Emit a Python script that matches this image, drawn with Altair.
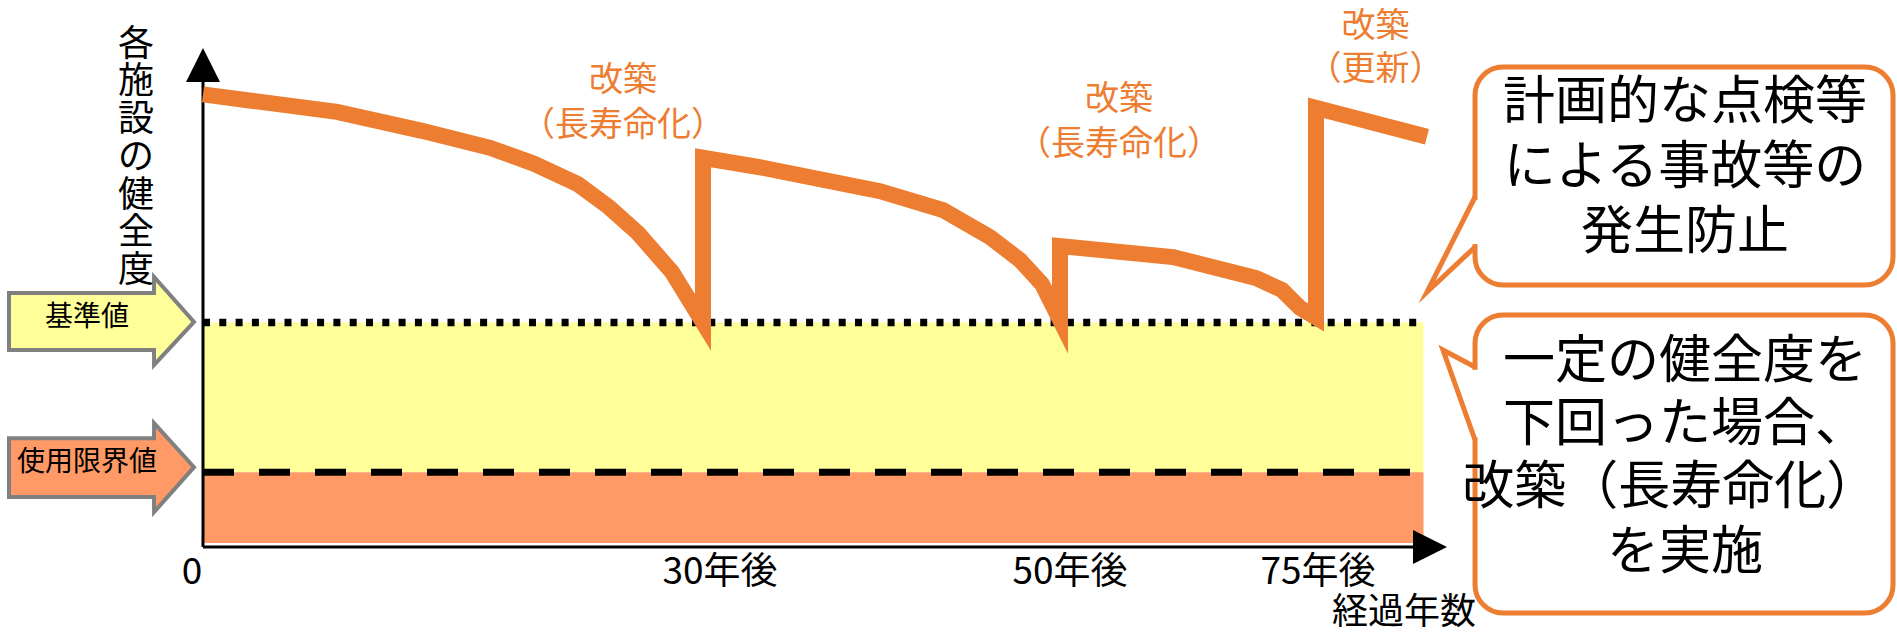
import altair as alt
import pandas as pd

ORANGE = "#ED7D31"
YELLOW = "#FFFF99"
SALMON = "#FF9966"
GREY = "#808080"
FONT = "Noto Sans CJK JP"

# ---------------- data (x = 経過年数, y = 健全度) ----------------
curve_year = [0, 8.04, 13.14, 17.22, 19.86, 22.5, 24.36, 26.1, 28.14, 30,
              30, 33.36, 39.92, 43.45, 46.08, 47.76, 48.99, 50,
              50, 61.04, 69.14, 71.68, 73.44, 75,
              75, 85.84]
curve_health = [90.7, 87.2, 83.4, 80.0, 76.8, 72.7, 68.1, 62.9, 55.1, 45.0,
                78.0, 76.0, 71.3, 67.5, 62.1, 57.5, 52.7, 45.5,
                60.3, 58.1, 53.9, 51.5, 47.9, 46.0,
                88.0, 82.2]

kijun_value = 45.0        # 基準値
limit_value = 15.0        # 使用限界値
band_bottom = 0.8
band_end_year = 85.5

tick_label_year = [-0.66, 30.95, 50.98, 75.2]
tick_labels = ["0", "30年後", "50年後", "75年後"]
tick_label_health = [-5.2, -5.2, -5.2, -5.2]

x_title = ["経過年数"]
x_title_year = [83.6]
x_title_health = [-13.2]

# vertical y-axis title, one character per row
y_title_chars = ["各", "施", "設", "の", "健", "全", "度"]
y_title_year = [-4.02] * 7
y_title_health = [100.7, 93.1, 85.55, 77.98, 70.4, 62.83, 55.25]

y_axis_top = 93.2
x_axis_end = 84.5
y_arrow_pos = (0, 96.6)
x_arrow_pos = (86.13, 0)

note_lines = ["改築", "（長寿命化）", "改築", "（長寿命化）", "改築", "（更新）"]
note_year = [25.2, 25.2, 55.76, 55.76, 80.81, 80.81]
note_health = [93.4, 84.4, 89.6, 80.6, 104.3, 95.6]

arrow_names = ["基準値", "使用限界値"]
arrow_fill = [YELLOW, SALMON]
arrow_x = [-11.64, -2.94, -2.935, -0.54]
arrow_top = [[50.9, 50.9, 54.1, 45.1], [21.8, 21.8, 24.8, 16.0]]
arrow_bottom = [[39.5, 39.5, 36.5, 45.1], [10.0, 10.0, 7.0, 16.0]]
arrow_label_year = [-6.96, -6.96]
arrow_label_health = [45.9, 16.8]

box_x0 = [90.53, 90.53]
box_x1 = [131.35, 131.35]
box_top = [96.19, 46.49]
box_bottom = [52.51, -13.23]
tail_year = [[90.53, 85.84, 90.53], [90.53, 87.40, 90.53]]
tail_health = [[70.14, 51.10, 60.12], [36.07, 39.48, 21.44]]
gap_top = [69.5, 35.5]
gap_bottom = [60.7, 22.0]

callout_lines = ["計画的な点検等", "による事故等の", "発生防止",
                 "一定の健全度を", "下回った場合、", "改築（長寿命化）", "を実施"]
callout_year = [111.04, 111.04, 111.04, 111.04, 111.04, 109.6, 111.04]
callout_health = [88.98, 75.95, 62.93, 37.07, 24.45, 11.82, -1.2]

# ---------------- scales ----------------
xs = alt.Scale(domain=[0, 30, 50, 75], range=[0, 500, 857, 1113], nice=False, zero=False)
ys = alt.Scale(domain=[0, 100], nice=False, zero=False)


def X(f):
    return alt.X(f, type="quantitative", scale=xs, axis=None)


def Y(f):
    return alt.Y(f, type="quantitative", scale=ys, axis=None)


def text_layer(texts, xv, yv, **kw):
    df = pd.DataFrame({"t": texts, "x": xv, "y": yv})
    return alt.Chart(df).mark_text(font=FONT, **kw).encode(x=X("x"), y=Y("y"), text="t:N")


# bands
bands = pd.DataFrame({
    "x0": [0, 0], "x1": [band_end_year, band_end_year],
    "y0": [limit_value, band_bottom], "y1": [kijun_value, limit_value],
    "c": [YELLOW, SALMON],
})
band_layer = alt.Chart(bands).mark_rect().encode(
    x=X("x0"), x2="x1", y=Y("y0"), y2="y1", fill=alt.Fill("c:N", scale=None))

dotted = alt.Chart(pd.DataFrame({"x0": [0], "x1": [band_end_year + 0.1], "y": [kijun_value]})).mark_rule(
    color="black", strokeWidth=7.5, strokeDash=[7, 9.3]).encode(x=X("x0"), x2="x1", y=Y("y"))
dashed = alt.Chart(pd.DataFrame({"x0": [0], "x1": [band_end_year + 0.1], "y": [limit_value]})).mark_rule(
    color="black", strokeWidth=7, strokeDash=[31, 25]).encode(x=X("x0"), x2="x1", y=Y("y"))

axes = pd.DataFrame({"x0": [0, 0], "x1": [0, x_axis_end], "y0": [0, 0], "y1": [y_axis_top, 0]})
axis_layer = alt.Chart(axes).mark_rule(color="black", strokeWidth=3).encode(
    x=X("x0"), x2="x1", y=Y("y0"), y2="y1")
up_arrow = alt.Chart(pd.DataFrame({"x": [y_arrow_pos[0]], "y": [y_arrow_pos[1]]})).mark_point(
    shape="M-1,1L0,-1L1,1Z", filled=True, size=1156, color="black", opacity=1, strokeWidth=0).encode(
    x=X("x"), y=Y("y"))
right_arrow = alt.Chart(pd.DataFrame({"x": [x_arrow_pos[0]], "y": [x_arrow_pos[1]]})).mark_point(
    shape="M-1,-1L1,0L-1,1Z", filled=True, size=1156, color="black", opacity=1, strokeWidth=0).encode(
    x=X("x"), y=Y("y"))

curve = pd.DataFrame({"year": curve_year, "health": curve_health, "i": list(range(len(curve_year)))})
curve_layer = alt.Chart(curve).mark_line(
    color=ORANGE, strokeWidth=16, strokeJoin="miter", strokeMiterLimit=10, strokeCap="butt").encode(
    x=X("year"), y=Y("health"), order="i:Q")

note_layer = text_layer(note_lines, note_year, note_health, color=ORANGE, fontSize=34)

# left arrows
rows = []
for k, name in enumerate(arrow_names):
    for j in range(len(arrow_x)):
        rows.append({"name": name, "x": arrow_x[j], "top": arrow_top[k][j],
                     "bottom": arrow_bottom[k][j], "fill": arrow_fill[k]})
arrows = pd.DataFrame(rows)
arrow_layer = alt.Chart(arrows).mark_area(
    orient="vertical", stroke=GREY, strokeWidth=4, strokeJoin="miter", fillOpacity=1).encode(
    x=X("x"), y=Y("top"), y2="bottom", fill=alt.Fill("fill:N", scale=None), detail="name:N")
arrow_text = text_layer(arrow_names, arrow_label_year, arrow_label_health, fontSize=28, color="black")

# callouts
boxes = pd.DataFrame({"x0": box_x0, "x1": box_x1, "y0": box_bottom, "y1": box_top})
box_layer = alt.Chart(boxes).mark_rect(
    cornerRadius=28, fill="white", stroke=ORANGE, strokeWidth=5).encode(
    x=X("x0"), x2="x1", y=Y("y0"), y2="y1")
gaps = pd.DataFrame({"x": box_x0, "y0": gap_bottom, "y1": gap_top})
gap_layer = alt.Chart(gaps).mark_rule(color="white", strokeWidth=8).encode(
    x=X("x"), y=Y("y0"), y2="y1")
trows = []
for k in range(2):
    for j in range(3):
        trows.append({"tail": k, "i": j, "x": tail_year[k][j], "y": tail_health[k][j]})
tails = pd.DataFrame(trows)
tail_layer = alt.Chart(tails).mark_line(
    color=ORANGE, strokeWidth=5, strokeJoin="miter", strokeMiterLimit=10).encode(
    x=X("x"), y=Y("y"), detail="tail:N", order="i:Q")
callout_text = text_layer(callout_lines, callout_year, callout_health, fontSize=52, color="black")

# axis labels / titles
tick_layer = text_layer(tick_labels, tick_label_year, tick_label_health, fontSize=37, color="black")
xtitle_layer = text_layer(x_title, x_title_year, x_title_health, fontSize=36, color="black")
ytitle_layer = text_layer(y_title_chars, y_title_year, y_title_health, fontSize=36, color="black")

chart = alt.layer(
    band_layer, dotted, dashed, axis_layer, up_arrow, right_arrow, curve_layer, note_layer,
    arrow_layer, arrow_text, box_layer, gap_layer, tail_layer, callout_text,
    tick_layer, xtitle_layer, ytitle_layer,
).properties(
    width=1243, height=499,
    padding={"left": 203, "top": 48, "right": 451, "bottom": 89},
    autosize=alt.AutoSizeParams(type="none"),
    background="white",
).configure_view(strokeWidth=0)

chart.save("out.html", embed_options={"renderer": "svg", "actions": False})
